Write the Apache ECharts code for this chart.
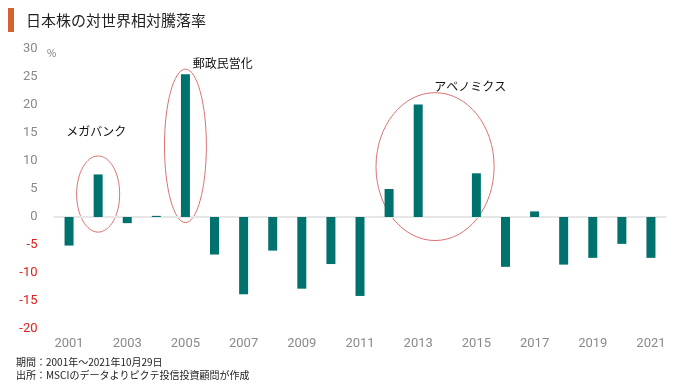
<!DOCTYPE html>
<html><head><meta charset="utf-8">
<script src="https://cdn.jsdelivr.net/npm/echarts@6/dist/echarts.min.js"></script>
<style>html,body{margin:0;padding:0;background:#fff}#c{width:680px;height:387px}</style>
</head><body><div id="c"></div>
<script>
const years = ['2001','2002','2003','2004','2005','2006','2007','2008','2009','2010','2011','2012','2013','2014','2015','2016','2017','2018','2019','2020','2021'];
const values = [-5.1, 7.6, -1.1, 0.2, 25.5, -6.7, -13.8, -6.0, -12.8, -8.4, -14.1, 5.0, 20.1, 0, 7.8, -8.9, 1.0, -8.5, -7.3, -4.8, -7.3];
const yTicks = [-20, -15, -10, -5, 0, 5, 10, 15, 20, 25, 30];
// annotations: label, center (category index, value), half-size (categories, value units)
const annoLabels = ['メガバンク', '郵政民営化', 'アベノミクス'];
const annoCenterX = [1, 4, 12.58];
const annoCenterY = [4.1, 12.7, 9.0];
const annoHalfW = [0.74, 0.72, 2.03];
const annoHalfH = [6.8, 13.7, 13.2];
const annoLabelX = [-0.1, 4.25, 12.55];
const annoLabelY = [15.2, 27.5, 23.3];

const chart = echarts.init(document.getElementById('c'));
const FONT = 'Roboto, "Noto Sans CJK JP", sans-serif';
chart.setOption({
  animation: false,
  grid: {left: 54.5, width: 611, top: 49, height: 280},
  xAxis: {
    type: 'category', data: years,
    axisLine: {onZero: true, lineStyle: {color: '#e6e6e6', width: 2}},
    axisTick: {show: false},
    axisLabel: {show: false}
  },
  yAxis: {
    type: 'value', min: -20, max: 30, interval: 5,
    axisLine: {show: false}, axisTick: {show: false}, splitLine: {show: false},
    axisLabel: {fontSize: 13, fontFamily: FONT, margin: 17,
      formatter: v => (v < 0 ? '{n|' + v + '}' : '{p|' + v + '}'),
      rich: {n: {color: '#e0201c', fontSize: 13, fontFamily: FONT}, p: {color: '#8a8a8a', fontSize: 13, fontFamily: FONT}}}
  },
  series: [{type: 'bar', data: values, barWidth: 9, itemStyle: {color: '#00726e'}}]
});

const g = [];
g.push({type: 'rect', shape: {x: 8, y: 8, width: 6, height: 24}, style: {fill: '#d4622c'}});
g.push({type: 'text', style: {x: 26, y: 20, text: '日本株の対世界相対騰落率', font: '15px "Noto Sans CJK JP"', fill: '#222', textVerticalAlign: 'middle'}});
g.push({type: 'text', style: {x: 47, y: 53, text: '%', font: '10px "Noto Sans CJK JP"', fill: '#777', textVerticalAlign: 'middle'}});
g.push({type: 'text', style: {x: 16, y: 362, text: '期間：2001年～2021年10月29日', font: '10px "Noto Sans CJK JP"', fill: '#222', textVerticalAlign: 'middle'}});
g.push({type: 'text', style: {x: 16, y: 375, text: '出所：MSCIのデータよりピクテ投信投資顧問が作成', font: '10px "Noto Sans CJK JP"', fill: '#222', textVerticalAlign: 'middle'}});

function px(ci, v) { return chart.convertToPixel({gridIndex: 0}, [ci, v]); }
const step = 611 / years.length;
for (let i = 0; i < annoLabels.length; i++) {
  const c = px(0, annoCenterY[i]);
  const base = px(0, 0);
  const cx = base[0] + annoCenterX[i] * step;
  const ry = Math.abs(px(0, annoCenterY[i] + annoHalfH[i])[1] - c[1]);
  g.push({type: 'ellipse', shape: {cx: cx, cy: c[1], rx: annoHalfW[i] * step, ry: ry},
    style: {fill: 'none', stroke: '#d87272', lineWidth: 1}});
  const lp = px(0, annoLabelY[i]);
  g.push({type: 'text', style: {x: base[0] + annoLabelX[i] * step, y: lp[1], text: annoLabels[i],
    font: '12px "Noto Sans CJK JP"', fill: '#111', textVerticalAlign: 'middle'}});
}
for (let i = 0; i < years.length; i += 2) {
  const p = px(i, -20);
  g.push({type: 'text', style: {x: p[0], y: p[1] + 15, text: years[i], font: '13px Roboto', fill: '#8a8a8a', textAlign: 'center', textVerticalAlign: 'middle'}});
}
chart.setOption({graphic: g});
</script></body></html>
